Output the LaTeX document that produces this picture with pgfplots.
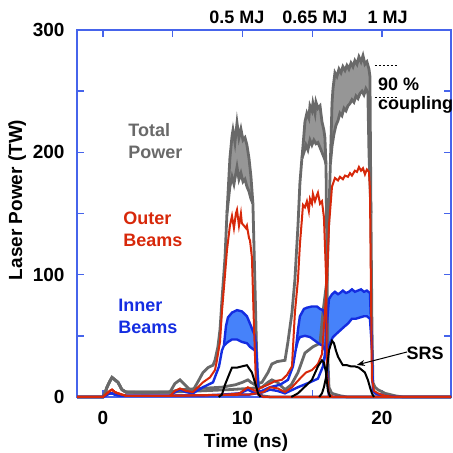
\documentclass[border=0pt]{standalone}
\usepackage{fontspec}
\setmainfont{Liberation Sans}
\usepackage{pgfplots}
\pgfplotsset{compat=1.18}
\usepgfplotslibrary{fillbetween}
\usetikzlibrary{arrows.meta}

\definecolor{axisblue}{RGB}{70,100,235}
\definecolor{totgray}{RGB}{105,105,105}
\definecolor{bandgray}{RGB}{150,150,150}
\definecolor{outred}{RGB}{215,40,10}
\definecolor{inblue}{RGB}{20,45,225}
\definecolor{bandblue}{RGB}{70,130,250}

\begin{document}
\begin{tikzpicture}
\begin{axis}[
  name=ax,
  set layers,
  scale only axis,
  width=187pt, height=183.5pt,
  xmin=-1.86, xmax=24.95,
  ymin=0, ymax=300,
  xtick={0,10,20}, minor xtick={5,15},
  ytick={0,100,200,300}, minor ytick={50,150,250},
  tick pos=both,
  xticklabel pos=lower, yticklabel pos=left,
  major tick length=3.5pt, minor tick length=3.5pt,
  tick style={draw=axisblue, line width=0.7pt},
  axis line style={draw=axisblue, line width=0.8pt},
  /pgf/number format/assume math mode=true,
  ticklabel style={font=\fontsize{9.5}{11}\selectfont\bfseries},
  xticklabel style={yshift=-3.8pt},
  yticklabel style={xshift=-2.7pt},
  label style={font=\fontsize{9.5}{11}\selectfont\bfseries},
  xlabel={Time (ns)},
  ylabel={Laser Power (TW)},
  xlabel style={at={(axis description cs:0.452,-0.123)}, anchor=center},
  ylabel style={at={(axis description cs:-0.16,0.537)}, anchor=center},
  clip=false,
]
% ---------- bands: total power (grey) ----------
% shot A (0.5 MJ)
\addplot[totgray, line width=1.4pt] coordinates {
  (-1.86,0) (0,0) (0.14,3) (0.29,8) (0.5,13) (0.65,16) (0.86,14) (1.08,12)
  (1.36,6) (1.65,4) (3,3.5) (4.8,4) (5.16,11) (5.52,14) (5.88,10) (6.38,4)
  (6.74,11) (7.17,20) (7.53,24) (7.89,26) (8.03,30) (8.24,41) (8.39,55)
  (8.53,79) (8.75,114) (8.89,150)
};
\addplot[name path=gAt, totgray, line width=1.4pt] coordinates {
  (8.89,150) (9.10,195) (9.25,213) (9.32,218) (9.46,208) (9.61,224) (9.75,212)
  (9.89,219) (10.04,210) (10.18,212) (10.32,206) (10.47,195) (10.61,180) (10.75,158)
};
\addplot[name path=gAb, totgray, line width=1.4pt] coordinates {
  (8.89,150) (9.10,172) (9.25,180) (9.39,174) (9.61,188) (9.75,178) (9.89,183)
  (10.04,176) (10.18,178) (10.32,172) (10.47,168) (10.61,162) (10.75,158)
};
\addplot[bandgray] fill between[of=gAt and gAb];
\addplot[totgray, line width=1.4pt] coordinates {
  (10.75,158) (10.90,90) (11.04,25) (11.18,5) (11.4,1) (12,0) (24.95,0)
};
% shot B (0.65 MJ)
\addplot[totgray, line width=1.4pt] coordinates {
  (-1.86,0) (0,0) (0.14,3) (0.29,8) (0.5,13) (0.65,16) (0.86,14) (1.08,12)
  (1.36,6) (1.65,4) (4.8,4) (5.52,6) (7,7) (8.5,8) (9.5,10) (10.0,12)
  (10.39,14) (10.6,12) (10.9,10) (11.4,12) (11.83,20) (12.11,27) (12.5,29)
  (13.05,30) (13.26,45) (13.55,69) (13.76,96) (13.98,140) (14.12,175) (14.26,195)
};
\addplot[name path=gBt, totgray, line width=1.4pt] coordinates {
  (14.26,195) (14.34,205) (14.48,225) (14.62,232) (14.76,228) (14.84,238)
  (14.98,234) (15.05,240) (15.2,232) (15.27,241) (15.41,236) (15.56,238)
  (15.7,225) (15.84,218) (15.91,212) (15.99,190)
};
\addplot[name path=gBb, totgray, line width=1.4pt] coordinates {
  (14.26,195) (14.41,200) (14.55,206) (14.69,202) (14.84,210) (14.98,206)
  (15.12,210) (15.27,207) (15.41,208) (15.56,204) (15.7,200) (15.84,196)
  (15.91,194) (15.99,190)
};
\addplot[bandgray] fill between[of=gBt and gBb];
\addplot[totgray, line width=1.4pt] coordinates {
  (15.99,190) (16.06,110) (16.13,30) (16.2,8) (16.4,3) (17,1) (17.5,0) (24.95,0)
};
% shot C (1 MJ)
\addplot[totgray, line width=1.4pt] coordinates {
  (-1.86,0) (0,0) (0.14,3) (0.29,8) (0.5,13) (0.65,16) (0.86,14) (1.08,12)
  (1.36,6) (1.65,4) (4.8,4) (7,5) (9,6) (10.5,7) (11.4,8) (11.83,12) (12.11,14)
  (12.5,12) (13.05,6) (13.5,10) (13.98,20) (14.48,36) (15.05,41) (15.56,44)
  (15.77,69) (16.06,96) (16.2,150) (16.3,190)
};
\addplot[name path=gCt, totgray, line width=1.4pt] coordinates {
  (16.3,190) (16.42,240) (16.49,252) (16.63,265) (16.77,262) (16.92,268)
  (17.06,265) (17.2,270) (17.35,267) (17.49,271) (17.63,268) (17.78,273)
  (17.92,270) (18.06,275) (18.21,272) (18.35,278) (18.5,274) (18.64,279)
  (18.78,272) (18.92,274) (19.07,268) (19.14,262) (19.21,150)
};
\addplot[name path=gCb, totgray, line width=1.4pt] coordinates {
  (16.3,190) (16.42,205) (16.56,215) (16.7,222) (16.85,226) (16.99,232)
  (17.13,230) (17.28,236) (17.42,234) (17.56,238) (17.71,240) (17.85,243)
  (17.99,241) (18.14,246) (18.28,244) (18.42,248) (18.57,250) (18.71,247)
  (18.85,252) (18.99,249) (19.07,200) (19.21,150)
};
\addplot[bandgray] fill between[of=gCt and gCb];
\addplot[totgray, line width=1.4pt] coordinates {
  (19.21,150) (19.28,60) (19.35,12) (19.5,8) (19.71,6) (20.22,3) (20.93,1)
  (21.5,0) (24.95,0)
};
% ---------- inner beams (blue bands) ----------
% shot A
\addplot[inblue, line width=1.2pt] coordinates {
  (-1.86,0) (0,0) (0.29,2) (0.5,3) (0.65,3) (0.86,2) (1.08,1.5) (1.65,1)
  (4.8,1) (5.16,4) (5.52,6) (5.95,4) (6.45,3) (7.17,8) (7.89,12) (8.32,25)
  (8.53,38) (8.67,42)
};
\addplot[name path=bAt, inblue, line width=1.2pt] coordinates {
  (8.67,42) (8.82,58) (8.96,65) (9.25,69) (9.61,71) (9.96,70) (10.32,66)
  (10.54,60) (10.75,54) (10.90,50) (11.04,30)
};
\addplot[name path=bAb, inblue, line width=1.2pt] coordinates {
  (8.67,42) (8.96,45) (9.25,47) (9.61,47) (9.96,45) (10.32,44) (10.54,41)
  (10.90,38) (11.04,30)
};
\addplot[bandblue] fill between[of=bAt and bAb];
\addplot[inblue, line width=1.2pt] coordinates {
  (11.04,30) (11.11,10) (11.18,2) (11.5,0) (24.95,0)
};
% shot B
\addplot[inblue, line width=1.2pt] coordinates {
  (-1.86,0) (0,0) (0.29,2) (0.5,3) (0.65,3) (0.86,2) (1.08,1.5) (1.65,1)
  (4.8,1) (8,1.5) (9.8,3) (10.39,6) (10.9,3) (11.4,5) (11.97,8) (12.69,10)
  (13.26,14) (13.62,25) (13.84,40)
};
\addplot[name path=bBt, inblue, line width=1.2pt] coordinates {
  (13.84,40) (13.98,55) (14.12,66) (14.41,72) (14.62,73) (14.98,74) (15.34,74)
  (15.56,72) (15.77,71) (15.91,66) (15.99,55) (16.06,30)
};
\addplot[name path=bBb, inblue, line width=1.2pt] coordinates {
  (13.84,40) (13.98,46) (14.12,49) (14.48,50) (14.84,49) (15.2,46) (15.56,43)
  (15.77,42) (15.91,38) (16.06,30)
};
\addplot[bandblue] fill between[of=bBt and bBb];
\addplot[inblue, line width=1.2pt] coordinates {
  (16.06,30) (16.13,8) (16.2,1) (16.5,0) (24.95,0)
};
% shot C
\addplot[inblue, line width=1.2pt] coordinates {
  (-1.86,0) (0,0) (0.29,2) (0.5,3) (0.65,3) (0.86,2) (1.08,1.5) (1.65,1)
  (4.8,1) (8,1.5) (10.5,2) (11.5,4) (11.97,6) (12.5,5) (13.05,3) (13.98,8)
  (14.84,12) (15.41,15) (15.77,25) (15.91,35)
};
\addplot[name path=bCt, inblue, line width=1.2pt] coordinates {
  (15.91,35) (16.06,60) (16.2,80) (16.42,84) (16.63,86) (16.85,84) (16.99,85)
  (17.2,87) (17.42,85) (17.63,86) (17.85,88) (18.06,86) (18.28,87) (18.5,88)
  (18.71,86) (18.92,87) (19.14,85) (19.28,40)
};
\addplot[name path=bCb, inblue, line width=1.2pt] coordinates {
  (15.91,35) (16.13,40) (16.27,44) (16.49,49) (16.77,52) (17.06,55) (17.35,58)
  (17.56,60) (17.85,64) (18.14,64) (18.42,65) (18.71,66) (18.92,66) (19.14,64)
  (19.28,40)
};
\addplot[bandblue] fill between[of=bCt and bCb];
\addplot[inblue, line width=1.2pt] coordinates {
  (19.28,40) (19.35,5) (19.5,3) (19.71,2) (20.2,1) (21,0) (24.95,0)
};
% ---------- outer beams (red) ----------
\addplot[outred, line width=1pt] coordinates {
  (-1.86,0) (0,0) (0.29,3) (0.5,5) (0.65,6) (0.86,4) (1.08,3) (1.36,2) (1.65,1)
  (4.8,1) (5.16,5) (5.52,7) (5.95,5) (6.45,4) (7.17,12) (7.67,16) (8.03,22)
  (8.17,30) (8.39,45) (8.53,70) (8.75,100) (8.89,120) (9.1,140) (9.25,148)
  (9.39,138) (9.53,150) (9.61,153) (9.75,140) (9.89,150) (9.96,142) (10.11,140)
  (10.25,138) (10.32,140) (10.47,130) (10.54,128) (10.68,114) (10.82,60)
  (10.97,10) (11.11,2) (11.5,0) (24.95,0)
};
\addplot[outred, line width=1pt] coordinates {
  (-1.86,0) (0,0) (0.29,3) (0.5,5) (0.65,6) (0.86,4) (1.08,3) (1.36,2) (1.65,1)
  (4.8,1) (7,1.5) (9,2) (9.8,3) (10.39,8) (10.9,5) (11.4,8) (11.83,10)
  (12.33,13) (12.83,14) (13.19,18) (13.55,25) (13.76,69) (13.98,96) (14.12,125)
  (14.26,145) (14.34,157) (14.48,155) (14.62,160) (14.76,152) (14.84,162)
  (14.98,158) (15.05,166) (15.2,160) (15.34,165) (15.41,167) (15.56,158)
  (15.7,160) (15.84,147) (15.99,100) (16.06,20) (16.2,2) (16.5,0) (24.95,0)
};
\addplot[outred, line width=1pt] coordinates {
  (-1.86,0) (0,0) (0.29,3) (0.5,5) (0.65,6) (0.86,4) (1.08,3) (1.36,2) (1.65,1)
  (4.8,1) (8,1.5) (10.5,2) (11.5,4) (11.97,8) (12.54,7) (13.05,4) (13.55,8)
  (14.12,15) (14.55,20) (14.98,22) (15.41,27) (15.7,35) (15.91,69) (16.06,96)
  (16.2,140) (16.42,172) (16.63,179) (16.85,177) (16.99,180) (17.2,178)
  (17.35,181) (17.56,180) (17.71,183) (17.85,181) (18.06,185) (18.21,184)
  (18.35,188) (18.5,185) (18.64,187) (18.78,182) (18.92,186) (19.07,184)
  (19.14,170) (19.21,90) (19.28,15) (19.43,5) (19.71,3) (20.22,1) (20.9,0) (24.95,0)
};
% ---------- SRS (black) ----------
\addplot[black, line width=1pt] coordinates {
  (8.3,0) (8.53,2) (8.75,10) (9.1,20) (9.25,24) (9.61,24) (9.96,25) (10.32,26)
  (10.68,20) (11.0,8) (11.11,3) (11.3,0)
};
\addplot[black, line width=1pt] coordinates {
  (13.5,0) (13.98,3) (14.62,10) (14.98,14) (15.41,25) (15.7,30) (15.84,28)
  (15.99,20) (16.13,5) (16.3,0)
};
\addplot[black, line width=1pt] coordinates {
  (15.5,0) (15.7,3) (15.84,8) (15.99,16) (16.13,30) (16.2,38) (16.42,46)
  (16.56,44) (16.7,38) (16.85,33) (16.99,30) (17.2,26) (17.49,26) (17.78,25)
  (18.06,25) (18.35,24) (18.57,22) (18.78,20) (18.99,14) (19.14,8) (19.28,3)
  (19.43,0)
};
% ---------- annotations ----------
\begin{scope}[font=\fontsize{9}{11}\selectfont\bfseries]
\node[totgray, align=left, anchor=west, inner sep=0pt] at (axis cs:1.8,209) {Total\\Power};
\node[outred, align=left, anchor=west, inner sep=0pt] at (axis cs:1.43,137) {Outer\\Beams};
\node[inblue, align=left, anchor=west, inner sep=0pt] at (axis cs:1.08,65.5) {Inner\\Beams};
\node[black, anchor=center, inner sep=0pt] at (axis cs:23.1,36) {SRS};
\node[black, anchor=west, inner sep=0pt] at (axis cs:19.7,255.5) {90 \%};
\node[black, anchor=west, inner sep=0pt] at (axis cs:19.7,239) {coupling};
\node[black, anchor=center, inner sep=0pt] at (axis cs:9.6,310.7) {0.5 MJ};
\node[black, anchor=center, inner sep=0pt] at (axis cs:15.2,310.7) {0.65 MJ};
\node[black, anchor=center, inner sep=0pt] at (axis cs:20.4,310.7) {1 MJ};
\end{scope}
\draw[black, line width=0.5pt, -{Stealth[length=4pt,width=3pt]}] (axis cs:21.8,36.8) -- (axis cs:18.2,26.2);
\draw[black, line width=0.4pt, dash pattern=on 1.2pt off 0.8pt] (axis cs:19.5,271) -- (axis cs:21.1,271);
\draw[black, line width=0.4pt, dash pattern=on 1.2pt off 0.8pt] (axis cs:19.5,245) -- (axis cs:21.1,245);
\end{axis}
\pgfresetboundingbox
\path[use as bounding box] ([shift={(-38.5pt,-28pt)}]ax.south west) rectangle ([shift={(1pt,15pt)}]ax.north east);
\end{tikzpicture}
\end{document}
